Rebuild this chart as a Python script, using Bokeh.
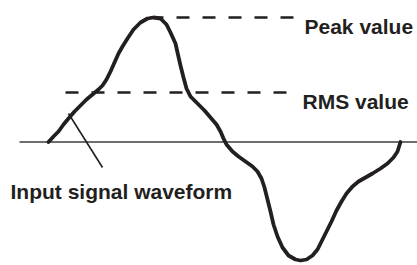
from bokeh.plotting import figure
from bokeh.models import Range1d
from bokeh.embed import file_html
from bokeh.resources import INLINE
from bokeh.core.properties import value

# Waveform samples (time, amplitude); 0 is the zero line
time = [48, 53, 58, 63, 68, 74, 80, 86, 92, 98, 102, 106, 110, 114, 118, 122,
        127, 133, 140, 147, 153, 160, 166, 170, 175, 177, 180, 183, 186, 190,
        197, 204, 210, 216, 220, 223, 226, 232, 238, 245, 252, 257, 261, 264,
        267, 270, 273, 277, 282, 288, 295, 300, 306, 312, 317, 321, 326, 331,
        336, 341, 346, 352, 358, 365, 372, 380, 387, 393, 397, 400]
signal = [0, 5.5, 10.5, 17.5, 23.5, 30.5, 36.5, 42.5, 47.5, 52.5, 56.5, 62.5,
          70.5, 79.5, 88.5, 95.5, 103.5, 112.5, 119.5, 123.5, 124.5, 123.5,
          117.5, 109.5, 98.5, 89.5, 76.5, 64.5, 53.5, 45.5, 38.5, 31.5, 24.5,
          17.5, 10.5, 3.5, -2.5, -9.5, -14.5, -19.5, -24.5, -29.5, -36.5,
          -45.5, -57.5, -69.5, -82.5, -94.5, -105.5, -113.5, -117.5, -118.5,
          -117.5, -113.5, -107.5, -99.5, -89.5, -79.5, -68.5, -59.5, -51.5,
          -44.5, -39.5, -35.5, -31.5, -26.5, -21.5, -15.5, -9.5, 0]

peak_value = 124.5
rms_value = 49.5

labels = ["Peak value", "RMS value", "Input signal waveform"]

ink = "#231f20"

p = figure(width=417, height=265, output_backend="svg", toolbar_location=None,
           x_range=Range1d(0, 417), y_range=Range1d(-123.5, 141.5),
           min_border=0, outline_line_color=None)
p.axis.visible = False
p.grid.visible = False
p.background_fill_color = "white"
p.border_fill_color = "white"

# zero line
p.segment(x0=[19], y0=[0], x1=[420], y1=[0], line_color="#6d6e71", line_width=2)

# dashed reference levels
p.segment(x0=[150], y0=[peak_value], x1=[295], y1=[peak_value],
          line_color=ink, line_width=2.5, line_dash="13 13")
p.segment(x0=[65], y0=[rms_value], x1=[292], y1=[rms_value],
          line_color=ink, line_width=2.5, line_dash="13 13")

# waveform
p.line(time, signal, line_color=ink, line_width=3.8, line_join="round",
       line_cap="round")

# leader line from label to waveform
p.segment(x0=[68], y0=[28.5], x1=[102], y1=[-25.5], line_color=ink, line_width=1.6)

font = value("Liberation Sans")
p.text(x=[304], y=[peak_value - 8.5], text=[labels[0]], text_font=font,
       text_font_size="21px", text_font_style="bold", text_color=ink,
       text_align="left", text_baseline="alphabetic")
p.text(x=[302], y=[rms_value - 8.7], text=[labels[1]], text_font=font,
       text_font_size="21px", text_font_style="bold", text_color=ink,
       text_align="left", text_baseline="alphabetic")
p.text(x=[10], y=[-49.2], text=[labels[2]], text_font=font,
       text_font_size="21px", text_font_style="bold", text_color=ink,
       text_align="left", text_baseline="alphabetic")

open("out.html", "w").write(file_html(p, INLINE))
